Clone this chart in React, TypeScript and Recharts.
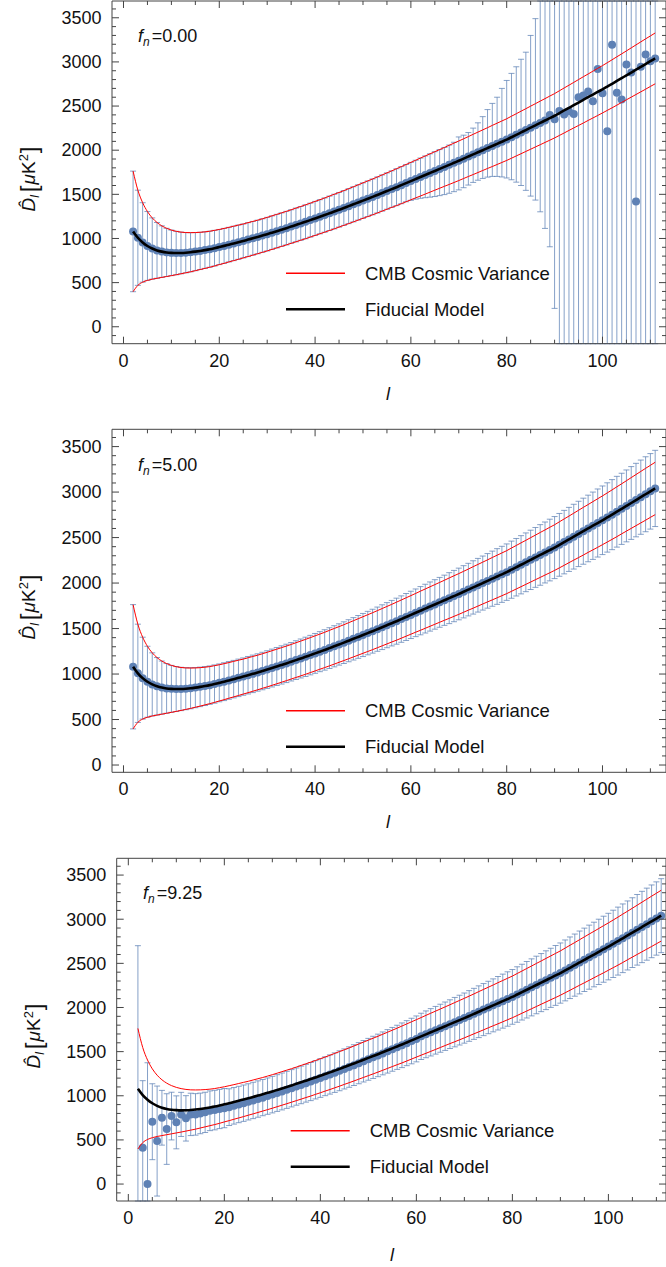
import React from "react";
import { ComposedChart, Line, ErrorBar, XAxis, YAxis } from "recharts";

// multipoles l = 2..111
const ELL = Array.from({ length: 110 }, (_, i) => i + 2);

// fiducial D_l (uK^2), l = 2..111
const FIDUCIAL = [
  1080, 1008, 955, 915, 886, 865, 851, 842, 837, 835,
  836, 839, 844, 851, 859, 868, 878, 890, 903, 916,
  930, 944, 958, 972, 987, 1002, 1017, 1033, 1049, 1066,
  1083, 1100, 1117, 1135, 1153, 1171, 1189, 1208, 1227, 1246,
  1265, 1285, 1305, 1325, 1345, 1366, 1387, 1408, 1429, 1450,
  1471, 1493, 1515, 1537, 1559, 1581, 1604, 1627, 1650, 1673,
  1696, 1719, 1742, 1765, 1788, 1811, 1834, 1857, 1880, 1904,
  1928, 1952, 1976, 2000, 2024, 2048, 2072, 2096, 2120, 2147,
  2174, 2201, 2228, 2255, 2282, 2309, 2336, 2363, 2390, 2420,
  2450, 2480, 2510, 2540, 2570, 2600, 2630, 2660, 2690, 2721,
  2752, 2784, 2816, 2848, 2880, 2912, 2944, 2976, 3008, 3040,
];

// half width of the cosmic variance band, l = 2..111
const COSMIC_VAR = [
  683, 539, 450, 390, 347, 316, 292, 273, 258, 246,
  236, 228, 222, 216, 211, 207, 204, 202, 199, 198,
  196, 195, 194, 192, 192, 191, 190, 190, 190, 190,
  190, 190, 190, 190, 191, 191, 192, 192, 193, 193,
  194, 195, 196, 196, 197, 198, 199, 200, 201, 202,
  203, 204, 205, 206, 207, 209, 210, 211, 212, 213,
  215, 216, 217, 218, 219, 220, 222, 223, 224, 225,
  226, 228, 229, 230, 231, 233, 234, 235, 236, 238,
  239, 241, 242, 244, 245, 247, 248, 250, 251, 253,
  255, 256, 258, 260, 262, 263, 265, 267, 268, 270,
  272, 274, 275, 277, 279, 281, 283, 285, 286, 288,
];

// error bar half width with noise (f_n = 5.00), l = 2..111
const NOISY_ERR = [
  683, 540, 450, 390, 347, 316, 292, 273, 258, 247,
  238, 231, 226, 221, 217, 214, 211, 210, 208, 208,
  207, 206, 206, 205, 206, 206, 205, 206, 207, 208,
  209, 210, 211, 211, 213, 214, 216, 217, 219, 220,
  222, 224, 226, 227, 229, 231, 233, 235, 237, 239,
  241, 243, 246, 248, 250, 253, 255, 258, 260, 262,
  265, 268, 270, 272, 274, 276, 280, 282, 284, 287,
  289, 293, 295, 297, 300, 303, 306, 308, 310, 314,
  316, 320, 323, 326, 329, 333, 335, 339, 341, 345,
  349, 352, 356, 359, 363, 366, 370, 374, 377, 381,
  385, 389, 391, 395, 400, 404, 408, 412, 415, 419,
];

// f_n = 0.00: bar ends from l = 59 on
const P1_FROM = 59;
const P1_LOW = [
  1416, 1432, 1445, 1455, 1462, 1468, 1475, 1485, 1497, 1512,
  1530, 1550, 1575, 1605, 1635, 1660, 1680, 1695, 1703, 1703,
  1697, 1685, 1665, 1638, 1600, 1545, 1480, 1435, 1302, 1114,
  906, 208,
  -9000, -9000, -9000, -9000, -9000, -9000, -9000, -9000, -9000, -9000,
  -9000, -9000, -9000, -9000, -9000, -9000, -9000, -9000, -9000, -9000, -9000,
];
const P1_HIGH = [
  1838, 1862, 1886, 1911, 1935, 1959, 1983, 2007, 2031, 2058,
  2090, 2150, 2170, 2200, 2250, 2310, 2380, 2460, 2530, 2600,
  2700, 2790, 2870, 2945, 3030, 3110, 3300, 3490,
  9000, 9000, 9000, 9000, 9000, 9000, 9000, 9000, 9000, 9000,
  9000, 9000, 9000, 9000, 9000, 9000, 9000, 9000, 9000, 9000,
  9000, 9000, 9000, 9000, 9000,
];
// f_n = 0.00: measured points from l = 89 on
const P1_PTS_FROM = 89;
const P1_POINTS = [
  2400, 2350, 2445, 2405, 2440, 2410, 2600, 2620, 2665, 2555,
  2920, 2645, 2215, 3195, 2650, 2575, 2970, 2880, 1420, 2944,
  3085, 3008, 3040,
];

// f_n = 9.25: measured points l = 2..60 (rest on the model)
const P3_POINTS = [
  -300, 411, 0, 706, 487, 751, 623, 770, 699, 789,
  744, 789, 789, 800, 812, 830, 838, 850, 860, 871,
  886, 901, 916, 931, 947, 963, 979, 996, 1013, 1031,
  1049, 1067, 1085, 1104, 1123, 1142, 1161, 1181, 1201, 1221,
  1241, 1262, 1283, 1304, 1325, 1347, 1369, 1391, 1413, 1435,
  1457, 1480, 1503, 1526, 1549, 1572, 1596, 1620, 1644,
];
// f_n = 9.25: error half width l = 2..20 (rest as NOISY_ERR)
const P3_ERR = [
  3000, 760, 1374, 430, 623, 310, 400, 270, 300, 250,
  257, 240, 235, 230, 228, 225, 224, 222, 222,
];

const X_TICKS = Array.from({ length: 23 }, (_, i) => i * 5);
const Y_TICKS = Array.from({ length: 38 }, (_, i) => i * 100 - 100);
const Y_TICKS_2 = Y_TICKS.filter((v) => v >= 0);

const FONT = "'Liberation Sans', Arial, sans-serif";
const FRAME = "#444";
const DOT = "#5E81B5";

const lineRows = ELL.map((l, i) => ({
  l,
  fid: FIDUCIAL[i],
  hi: FIDUCIAL[i] + COSMIC_VAR[i],
  lo: FIDUCIAL[i] - COSMIC_VAR[i],
}));

// bar ends are cut at the frame so nothing spills out of the plot
const withBars = (rows: { l: number; y: number; low: number; high: number }[], yDomain: number[]) =>
  rows.map((r) => {
    const low = Math.max(r.low, yDomain[0]);
    const high = Math.min(r.high, yDomain[1]);
    return { l: r.l, y: r.y, err: [r.y - low, high - r.y] };
  });

const DOM_1 = [-192, 3690];
const DOM_2 = [-80, 3690];
const DOM_3 = [-192, 3690];

const panel1 = withBars(
  ELL.map((l, i) => {
    const y = l >= P1_PTS_FROM ? P1_POINTS[l - P1_PTS_FROM] : FIDUCIAL[i];
    if (l < P1_FROM) return { l, y, low: y - COSMIC_VAR[i], high: y + COSMIC_VAR[i] };
    return { l, y, low: P1_LOW[l - P1_FROM], high: P1_HIGH[l - P1_FROM] };
  }),
  DOM_1,
);

const panel2 = withBars(
  ELL.map((l, i) => ({ l, y: FIDUCIAL[i], low: FIDUCIAL[i] - NOISY_ERR[i], high: FIDUCIAL[i] + NOISY_ERR[i] })),
  DOM_2,
);

const panel3 = withBars(
  ELL.map((l, i) => {
    const y = i < P3_POINTS.length ? P3_POINTS[i] : FIDUCIAL[i];
    const e = i < P3_ERR.length ? P3_ERR[i] : NOISY_ERR[i];
    return { l, y, low: y - e, high: y + e };
  }),
  DOM_3,
);

const labelStyle = { fontFamily: FONT, fontSize: 18, fill: "#111" };

const BottomTick = (p: any) => {
  const v = p.payload.value;
  const major = v % 20 === 0;
  return (
    <g>
      <line x1={p.x} x2={p.x} y1={p.y} y2={p.y - (major ? 7 : 4)} stroke={FRAME} />
      {major && (
        <text x={p.x} y={p.y + 23} textAnchor="middle" style={labelStyle}>
          {v}
        </text>
      )}
    </g>
  );
};

const TopTick = (p: any) => {
  const major = p.payload.value % 20 === 0;
  return <line x1={p.x} x2={p.x} y1={p.y} y2={p.y + (major ? 7 : 4)} stroke={FRAME} />;
};

const LeftTick = (p: any) => {
  const v = p.payload.value;
  const major = v % 500 === 0;
  return (
    <g>
      <line x1={p.x} x2={p.x + (major ? 7 : 4)} y1={p.y} y2={p.y} stroke={FRAME} />
      {major && (
        <text x={p.x - 10.5} y={p.y + 6.3} textAnchor="end" style={labelStyle}>
          {v}
        </text>
      )}
    </g>
  );
};

const RightTick = (p: any) => {
  const major = p.payload.value % 500 === 0;
  return <line x1={p.x} x2={p.x - (major ? 7 : 4)} y1={p.y} y2={p.y} stroke={FRAME} />;
};

const dotShape = (p: any) => <circle key={p.index} cx={p.cx} cy={p.cy} r={4} fill={DOT} />;

function Panel({ points, xDomain, yDomain, yTicks, margin, height }: any) {
  // framed axes are 1px wide, so the base chart's margins are cut by one pixel
  const m = { top: margin.top - 1, bottom: margin.bottom - 1, left: margin.left - 1, right: 0 };
  const plain = { top: margin.top, bottom: margin.bottom, left: margin.left, right: 1 };
  return (
    <div style={{ position: "relative", width: 667, height }}>
      <div style={{ position: "absolute", left: 0, top: 0 }}>
        <ComposedChart width={667} height={height} data={lineRows} margin={m}>
          <XAxis xAxisId="b" dataKey="l" type="number" domain={xDomain} allowDataOverflow ticks={X_TICKS}
            interval={0} height={1} tickSize={0} tickMargin={0} tickLine={false}
            axisLine={{ stroke: FRAME }} tick={<BottomTick />} />
          <XAxis xAxisId="t" orientation="top" dataKey="l" type="number" domain={xDomain} allowDataOverflow
            ticks={X_TICKS} interval={0} height={1} tickSize={0} tickMargin={0} tickLine={false}
            axisLine={{ stroke: FRAME }} tick={<TopTick />} />
          <YAxis yAxisId="l" type="number" domain={yDomain} allowDataOverflow ticks={yTicks} interval={0}
            width={1} tickSize={0} tickMargin={0} tickLine={false} axisLine={{ stroke: FRAME }}
            tick={<LeftTick />} />
          <YAxis yAxisId="r" orientation="right" type="number" domain={yDomain} allowDataOverflow ticks={yTicks}
            interval={0} width={1} tickSize={0} tickMargin={0} tickLine={false} axisLine={{ stroke: FRAME }}
            tick={<RightTick />} />
          <Line xAxisId="b" yAxisId="l" data={points} dataKey="y" stroke="none" dot={dotShape}
            activeDot={false} isAnimationActive={false}>
            <ErrorBar dataKey="err" direction="y" width={3} stroke={DOT} strokeOpacity={0.75}
              strokeWidth={1} isAnimationActive={false} />
          </Line>
        </ComposedChart>
      </div>
      {/* model curves sit on top of the data */}
      <div style={{ position: "absolute", left: 0, top: 0, pointerEvents: "none" }}>
        <ComposedChart width={667} height={height} data={lineRows} margin={plain}>
          <XAxis dataKey="l" type="number" domain={xDomain} allowDataOverflow hide />
          <YAxis type="number" domain={yDomain} allowDataOverflow hide />
          <Line dataKey="hi" type="monotone" stroke="#ff0000" strokeWidth={1} dot={false}
            activeDot={false} isAnimationActive={false} />
          <Line dataKey="lo" type="monotone" stroke="#ff0000" strokeWidth={1} dot={false}
            activeDot={false} isAnimationActive={false} />
          <Line dataKey="fid" type="monotone" stroke="#000" strokeWidth={2.6} dot={false}
            activeDot={false} isAnimationActive={false} />
        </ComposedChart>
      </div>
    </div>
  );
}

function YLabel({ x, y }: { x: number; y: number }) {
  return (
    <text x={x} y={y} transform={`rotate(-90 ${x} ${y})`} textAnchor="middle" style={{ ...labelStyle, fontSize: 19 }}>
      <tspan fontStyle="italic">{"D\u0302"}</tspan>
      <tspan fontStyle="italic" fontSize={12} dy={4}>l</tspan>
      <tspan dy={-2} dx={3} fontSize={24}>[</tspan>
      <tspan dy={-2} dx={1} fontStyle="italic">μ</tspan>
      <tspan>K</tspan>
      <tspan fontSize={13} dy={-7}>2</tspan>
      <tspan dy={9} dx={1} fontSize={24}>]</tspan>
    </text>
  );
}

function FnLabel({ x, y, value }: { x: number; y: number; value: string }) {
  return (
    <text x={x} y={y} style={labelStyle}>
      <tspan fontStyle="italic">f</tspan>
      <tspan fontStyle="italic" fontSize={12} dy={4}>n</tspan>
      <tspan dy={-4} dx={2}>{`=${value}`}</tspan>
    </text>
  );
}

function Legend({ x, y }: { x: number; y: number }) {
  const txt = { ...labelStyle, fontSize: 18.5 };
  return (
    <g>
      <line x1={x} x2={x + 59} y1={y} y2={y} stroke="#ff0000" strokeWidth={1.6} />
      <text x={x + 79} y={y + 6.5} style={txt}>CMB Cosmic Variance</text>
      <line x1={x} x2={x + 59} y1={y + 36} y2={y + 36} stroke="#000" strokeWidth={2.4} />
      <text x={x + 79} y={y + 42.5} style={txt}>Fiducial Model</text>
    </g>
  );
}

function XLabel({ x, y }: { x: number; y: number }) {
  return (
    <text x={x} y={y} textAnchor="middle" fontStyle="italic" style={labelStyle}>l</text>
  );
}

export default function App() {
  return (
    <div style={{ position: "absolute", left: 0, top: 0, width: 666, height: 1267, background: "#fff", overflow: "hidden" }}>
      <div style={{ position: "absolute", left: 0, top: 0 }}>
        <Panel points={panel1} height={420} xDomain={[-2.4, 113.26]} yDomain={DOM_1} yTicks={Y_TICKS}
          margin={{ top: 1, bottom: 76.3, left: 112 }} />
      </div>
      <div style={{ position: "absolute", left: 0, top: 420 }}>
        <Panel points={panel2} height={430} xDomain={[-2.4, 113.26]} yDomain={DOM_2} yTicks={Y_TICKS_2}
          margin={{ top: 9.3, bottom: 77.7, left: 112 }} />
      </div>
      <div style={{ position: "absolute", left: 0, top: 850 }}>
        <Panel points={panel3} height={417} xDomain={[-2.42, 112.0]} yDomain={DOM_3} yTicks={Y_TICKS}
          margin={{ top: 8.3, bottom: 66, left: 116.7 }} />
      </div>
      <svg width={666} height={1267} style={{ position: "absolute", left: 0, top: 0, pointerEvents: "none" }}>
        <YLabel x={35} y={179} />
        <YLabel x={35} y={607} />
        <YLabel x={40} y={1036} />
        <XLabel x={388} y={399.5} />
        <XLabel x={388} y={828} />
        <XLabel x={392} y={1261} />
        <FnLabel x={138} y={41.7} value="0.00" />
        <FnLabel x={138} y={470.7} value="5.00" />
        <FnLabel x={143} y={899.3} value="9.25" />
        <Legend x={286} y={273.3} />
        <Legend x={286} y={710.7} />
        <Legend x={290.7} y={1130.7} />
      </svg>
    </div>
  );
}
